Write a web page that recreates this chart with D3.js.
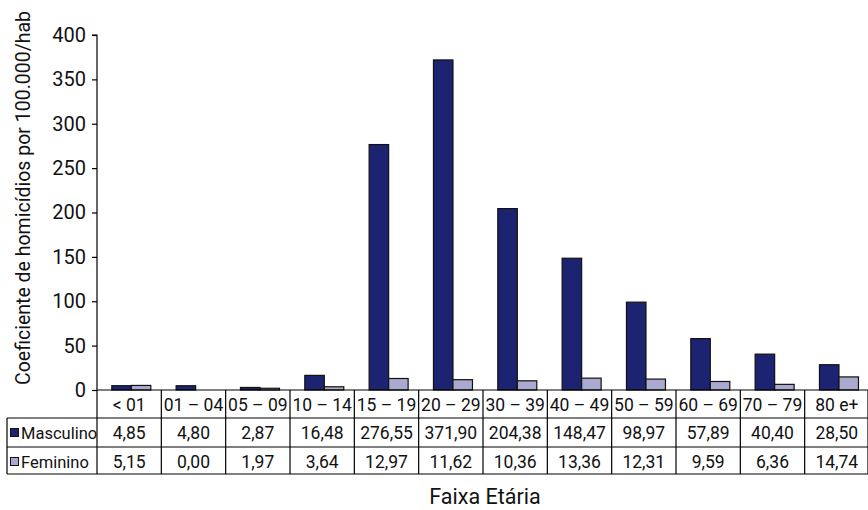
<!DOCTYPE html>
<html>
<head>
<meta charset="utf-8">
<script src="https://cdn.jsdelivr.net/npm/d3@7"></script>
<style>
  html, body { margin: 0; padding: 0; background: #fff; }
  svg { display: block; font-family: Roboto, "Noto Sans", sans-serif; }
</style>
</head>
<body>
<svg id="chart" width="868" height="510"></svg>
<script>
// Age groups, series and value labels
const categories = ["< 01", "01 – 04", "05 – 09", "10 – 14", "15 – 19", "20 – 29",
                    "30 – 39", "40 – 49", "50 – 59", "60 – 69", "70 – 79", "80 e+"];
const masculino = [4.85, 4.80, 2.87, 16.48, 276.55, 371.90, 204.38, 148.47, 98.97, 57.89, 40.40, 28.50];
const feminino  = [5.15, 0.00, 1.97, 3.64, 12.97, 11.62, 10.36, 13.36, 12.31, 9.59, 6.36, 14.74];
const seriesNames = ["Masculino", "Feminino"];
const yTicks = [0, 50, 100, 150, 200, 250, 300, 350, 400];

const colors = ["#1c2472", "#aaaad0"];
const series = [masculino, feminino];

const svg = d3.select("#chart");

const plotL = 97, plotR = 869, plotT = 35, plotB = 390;
const rowH = [28, 29, 27];

const x = d3.scaleBand().domain(categories).range([plotL, plotR]).padding(0);
const y = d3.scaleLinear().domain([0, 400]).range([plotB, plotT]);
const fmt = v => v.toFixed(2).replace(".", ",");

// bars
const barW = 19.5, barOff = 14.8;
series.forEach((vals, si) => {
  svg.append("g").selectAll("rect")
    .data(vals)
    .join("rect")
    .attr("x", (d, i) => x(categories[i]) + barOff + si * barW)
    .attr("y", d => y(d))
    .attr("width", barW)
    .attr("height", d => plotB - y(d))
    .attr("fill", colors[si])
    .attr("stroke", "#111")
    .attr("stroke-width", 1.2);
});

// y axis
const yAxis = d3.axisLeft(y).tickValues(yTicks).tickSize(5).tickPadding(6);
const ga = svg.append("g").attr("transform", `translate(${plotL},0)`).call(yAxis);
ga.select(".domain").attr("stroke", "#000").attr("stroke-width", 1.2).attr("d", `M-5,${plotT}H0V${plotB}`);
ga.selectAll(".tick line").attr("stroke", "#000").attr("stroke-width", 1.2);
ga.selectAll(".tick text").attr("font-size", 20).attr("fill", "#111")
  .attr("font-family", "Roboto, sans-serif");

// y axis title
svg.append("text")
  .attr("transform", `translate(30,198) rotate(-90)`)
  .attr("text-anchor", "middle")
  .attr("font-size", 19.5)
  .attr("fill", "#111")
  .text("Coeficiente de homicídios por 100.000/hab");

// data table
const r0 = plotB, r1 = r0 + rowH[0], r2 = r1 + rowH[1], r3 = r2 + rowH[2];
const tbl = svg.append("g").attr("stroke", "#000").attr("stroke-width", 1.2);
tbl.append("line").attr("x1", plotL).attr("x2", plotR).attr("y1", r0).attr("y2", r0);
[r1, r2, r3].forEach(yy => tbl.append("line").attr("x1", 7).attr("x2", plotR).attr("y1", yy).attr("y2", yy));
tbl.append("line").attr("x1", 7).attr("x2", 7).attr("y1", r1).attr("y2", r3);
categories.forEach(c => {
  tbl.append("line").attr("x1", x(c)).attr("x2", x(c)).attr("y1", r0).attr("y2", r3);
});
tbl.append("line").attr("x1", plotR - 1).attr("x2", plotR - 1).attr("y1", r0).attr("y2", r3);

const cx = c => x(c) + x.bandwidth() / 2;
svg.append("g").selectAll("text").data(categories).join("text")
  .attr("x", d => cx(d)).attr("y", r0 + 21)
  .attr("text-anchor", "middle").attr("font-size", 17.5).attr("fill", "#111")
  .text(d => d);

const rowTops = [r1, r2];
series.forEach((vals, si) => {
  svg.append("g").selectAll("text").data(vals).join("text")
    .attr("x", (d, i) => cx(categories[i])).attr("y", rowTops[si] + 21)
    .attr("text-anchor", "middle").attr("font-size", 17.5).attr("fill", "#111")
    .text(d => fmt(d));
  svg.append("rect")
    .attr("x", 10.5).attr("y", rowTops[si] + 10.5)
    .attr("width", 8).attr("height", 8)
    .attr("fill", colors[si]).attr("stroke", "#111").attr("stroke-width", 1);
  svg.append("text")
    .attr("x", 21).attr("y", rowTops[si] + 21)
    .attr("font-size", 16.5).attr("fill", "#111")
    .text(seriesNames[si]);
});

// x axis title
svg.append("text")
  .attr("x", 485).attr("y", 504)
  .attr("text-anchor", "middle")
  .attr("font-size", 21.5)
  .attr("fill", "#111")
  .text("Faixa Etária");
</script>
</body>
</html>
